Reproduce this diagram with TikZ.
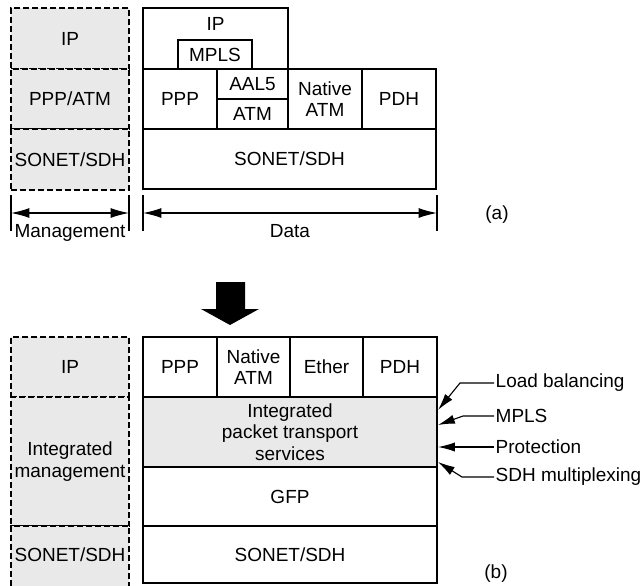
\documentclass[tikz,border=0pt]{standalone}
\usepackage{fontspec}
\setmainfont{Liberation Sans}
\usetikzlibrary{arrows.meta}

\tikzset{
  cell/.style 2 args={draw, line width=1.6pt, inner sep=0pt, align=center,
    minimum width=#1*0.025cm, minimum height=#2*0.025cm},
  mgmt/.style 2 args={draw, line width=0.8pt, dash pattern=on 4.3pt off 2.1pt,
    fill=gray!17, inner sep=0pt, align=center,
    minimum width=#1*0.025cm, minimum height=#2*0.025cm},
  dim/.style={line width=0.8pt,
    {Latex[length=13pt,width=7pt]}-{Latex[length=13pt,width=7pt]}},
  call/.style={line width=0.8pt, -{Latex[length=12pt,width=6.5pt]}},
}

\begin{document}
\begin{tikzpicture}[x=0.025cm, y=-0.025cm, font=\fontsize{13.5}{15.2}\selectfont]

\clip (0,0) rectangle (643,585);

% Gestion (a)
\node[mgmt={118}{61}] (mipa) at (70,38.5) {IP};
\node[mgmt={118}{60}] (mpppa) at (70,99) {PPP/ATM};
\node[mgmt={118}{61}] (msona) at (70,159.5) {SONET/SDH};

% Donnees (a)
\node[cell={145}{61}] (ipa) at (215.5,38.5) {};
\node (ipalbl) at (215.5,24) {IP};
\node[cell={74}{29}] (mplsa) at (215,54.5) {MPLS};

\node[cell={74}{60}] (pppa) at (180,99) {PPP};
\node[cell={71}{30}] (aal5a) at (252.5,84) {AAL5};
\node[cell={71}{30}] (atma) at (252.5,114) {ATM};
\node[cell={74}{60}] (natma) at (325,99) {Native\\ATM};
\node[cell={74}{60}] (pdha) at (399,99) {PDH};

\node[cell={293}{60}] (sona) at (289.5,159) {SONET/SDH};

% Cotes
\foreach \x in {11,129,143,437}
{
    \draw[line width=0.8pt] (\x,195) -- (\x,231);
}

\coordinate (mgl) at (11,213);
\coordinate (mgr) at (129,213);
\coordinate (dal) at (143,213);
\coordinate (dar) at (437,213);

\draw[dim] (mgl) -- (mgr);
\draw[dim] (dal) -- (dar);

\node[anchor=base] (mgtxt) at (70,237)
{Management};

\node[anchor=base] (datxt) at (290,237)
{Data};

\node[anchor=base] (capa) at (497,219)
{(a)};

% Fleche
\fill (216,282) -- (245,282) -- (245,309) -- (259,309) -- (230,325)
  -- (201,309) -- (216,309) -- cycle;

% Gestion (b)
\node[mgmt={118}{60}] (mipb) at (70,367) {IP};
\node[mgmt={118}{129}] (mintb) at (70,461.5) {Integrated\\management};
\node[mgmt={118}{70}] (msonb) at (70,561) {};
\node (msonblbl) at (70,555) {SONET/SDH};

% Donnees (b)
\node[cell={74}{60}] (pppb) at (180,367) {PPP};
\node[cell={73}{60}] (natmb) at (253.5,367) {Native\\ATM};
\node[cell={73}{60}] (etherb) at (326.5,367) {Ether};
\node[cell={74}{60}] (pdhb) at (400,367) {PDH};

\node[cell={294}{70}, fill=gray!17] (iptsb) at (290,432)
{Integrated\\packet transport\\services};

\node[cell={294}{59}] (gfpb) at (290,496.5) {GFP};
\node[cell={294}{57}] (sonb) at (290,554.5) {SONET/SDH};

% Fonctions
\node[anchor=west, inner sep=1pt] (lbal) at (494,383) {Load balancing};
\node[anchor=west, inner sep=1pt] (mplsb) at (494,416) {MPLS};
\node[anchor=west, inner sep=1pt] (prot) at (494,447) {Protection};
\node[anchor=west, inner sep=1pt] (sdhm) at (494,477) {SDH multiplexing};

\coordinate (lbtip) at (438,410);
\coordinate (mptip) at (438,425);
\coordinate (prtip) at (438,447);
\coordinate (sdtip) at (438,462);

\draw[call] (lbal.west) -- ++(-34,0) -- (lbtip);
\draw[call] (mplsb.west) -- ++(-31,0) -- (mptip);
\draw[call] (prot.west) -- (prtip);
\draw[call] (sdhm.west) -- ++(-32,0) -- (sdtip);

\node[anchor=base] (capb) at (496,578)
{(b)};

\end{tikzpicture}
\end{document}
